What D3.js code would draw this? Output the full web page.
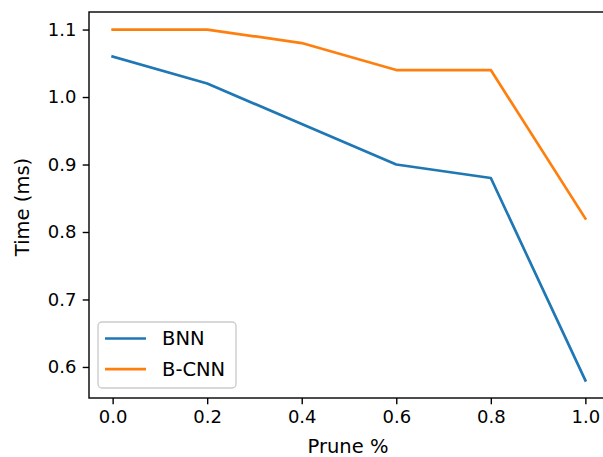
<!DOCTYPE html>
<html>
<head>
<meta charset="utf-8">
<script src="https://cdn.jsdelivr.net/npm/d3@7"></script>
<style>
  body { margin: 0; background: #fff; }
  svg text { font-family: "DejaVu Sans", sans-serif; fill: #000; }
</style>
</head>
<body>
<div id="chart"></div>
<script>
const prune = [0.0, 0.2, 0.4, 0.6, 0.8, 1.0];
const bnn = [1.06, 1.02, 0.96, 0.90, 0.88, 0.58];
const bcnn = [1.10, 1.10, 1.08, 1.04, 1.04, 0.82];
const seriesNames = ['BNN', 'B-CNN'];
const colors = ['#1f77b4', '#ff7f0e'];
const xTicks = [0.0, 0.2, 0.4, 0.6, 0.8, 1.0];
const yTicks = [0.6, 0.7, 0.8, 0.9, 1.0, 1.1];

const W = 603, H = 457;
const plotL = 89, plotT = 12, plotR = 609, plotB = 398;
const fs = 18, labelFs = 19.5;

const svg = d3.select('#chart')
  .append('svg')
  .attr('width', W)
  .attr('height', H);

const x = d3.scaleLinear().domain([-0.05, 1.05]).range([plotL, plotR]);
const y = d3.scaleLinear().domain([0.554, 1.126]).range([plotB, plotT]);

// lines
const line = d3.line().x((d, i) => x(prune[i])).y(d => y(d));
[bnn, bcnn].forEach((s, k) => {
  svg.append('path')
    .datum(s)
    .attr('fill', 'none')
    .attr('stroke', colors[k])
    .attr('stroke-width', 2.7)
    .attr('stroke-linejoin', 'round')
    .attr('stroke-linecap', 'square')
    .attr('d', line);
});

// axes
const xAxis = svg.append('g')
  .attr('transform', `translate(0,${plotB})`)
  .call(d3.axisBottom(x).tickValues(xTicks).tickFormat(d3.format('.1f')).tickSize(6.3).tickPadding(6.3));
const yAxis = svg.append('g')
  .attr('transform', `translate(${plotL},0)`)
  .call(d3.axisLeft(y).tickValues(yTicks).tickFormat(d3.format('.1f')).tickSize(6.3).tickPadding(6.3));

[xAxis, yAxis].forEach(g => {
  g.select('.domain').remove();
  g.selectAll('line').attr('stroke', '#000').attr('stroke-width', 1.4);
  g.selectAll('text').attr('font-size', fs).attr('font-family', 'DejaVu Sans').attr('fill', '#000');
});

// spines (right one falls outside the view)
svg.append('rect')
  .attr('x', plotL).attr('y', plotT)
  .attr('width', plotR - plotL).attr('height', plotB - plotT)
  .attr('fill', 'none')
  .attr('stroke', '#000')
  .attr('stroke-width', 1.4);

// axis labels
svg.append('text')
  .attr('x', 348)
  .attr('y', 453)
  .attr('text-anchor', 'middle')
  .attr('font-size', labelFs)
  .text('Prune %');

svg.append('text')
  .attr('transform', 'translate(29,207) rotate(-90)')
  .attr('text-anchor', 'middle')
  .attr('font-size', labelFs)
  .text('Time (ms)');

// legend
const lg = svg.append('g').attr('transform', 'translate(98,322)');
lg.append('rect')
  .attr('width', 138).attr('height', 66)
  .attr('rx', 4)
  .attr('fill', '#fff').attr('fill-opacity', 0.8)
  .attr('stroke', '#ccc').attr('stroke-width', 1.4);
seriesNames.forEach((n, k) => {
  const yy = 16.5 + k * 30.7;
  lg.append('line')
    .attr('x1', 7).attr('x2', 48)
    .attr('y1', yy).attr('y2', yy)
    .attr('stroke', colors[k]).attr('stroke-width', 2.7);
  lg.append('text')
    .attr('x', 64).attr('y', yy + 6.8)
    .attr('font-size', labelFs)
    .text(n);
});
</script>
</body>
</html>
